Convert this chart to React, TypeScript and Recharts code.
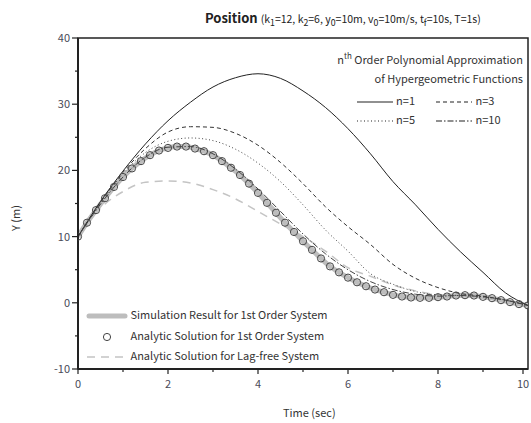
import { Line, LineChart, ReferenceArea, XAxis, YAxis } from "recharts";

const FONT = '"Noto Sans CJK KR", "Noto Sans", sans-serif';

// sampling times
const curveTime = [0, 0.5, 1, 1.5, 2, 2.5, 3, 3.5, 4, 4.5, 5, 5.5, 6, 6.5, 7, 7.5, 8, 8.5, 9, 9.5, 10];
const markerTime = [
  0, 0.2, 0.4, 0.6, 0.8, 1, 1.2, 1.4, 1.6, 1.8, 2, 2.2, 2.4, 2.6, 2.8, 3, 3.2, 3.4, 3.6, 3.8, 4, 4.2, 4.4, 4.6, 4.8,
  5, 5.2, 5.4, 5.6, 5.8, 6, 6.2, 6.4, 6.6, 6.8, 7, 7.2, 7.4, 7.6, 7.8, 8, 8.2, 8.4, 8.6, 8.8, 9, 9.2, 9.4, 9.6, 9.8, 10,
];

// polynomial approximations
const n1 = [10, 15.3, 19.9, 24.0, 27.5, 30.3, 32.6, 34.0, 34.6, 33.9, 32.0, 29.5, 26.3, 22.5, 18.3, 14.8, 11.1, 7.7, 4.6, 1.5, -0.4];
const n3 = [10, 15.2, 19.7, 23.3, 25.8, 26.6, 26.5, 25.6, 23.8, 21.2, 18.0, 14.5, 11.5, 8.8, 5.8, 3.7, 2.3, 1.4, 1.0, 0.4, -0.4];
const n5 = [10, 15.0, 19.5, 22.7, 24.4, 24.9, 24.5, 23.2, 21.1, 18.3, 14.8, 11.0, 7.8, 4.4, 2.8, 1.7, 1.2, 1.1, 0.9, 0.4, -0.4];
const n10 = [10, 14.9, 19.0, 22.0, 23.5, 23.6, 22.5, 20.2, 17.2, 13.8, 10.4, 7.4, 5.0, 3.2, 2.0, 1.3, 1.0, 1.1, 0.9, 0.4, -0.4];
const lagFree = [10, 14.3, 16.8, 18.2, 18.4, 18.1, 17.1, 15.7, 13.8, 11.9, 10.0, 7.8, 5.3, 4.0, 2.7, 1.8, 1.2, 1.0, 0.9, 0.4, -0.3];

// 1st order system (simulation and analytic)
const firstOrder = [
  10.0, 12.1, 14.0, 15.8, 17.5, 19.0, 20.3, 21.4, 22.3, 23.0, 23.4, 23.6, 23.6, 23.3, 22.9, 22.3, 21.4, 20.4, 19.3, 18.0,
  16.6, 15.1, 13.6, 12.1, 10.7, 9.3, 8.0, 6.7, 5.5, 4.6, 3.8, 3.1, 2.5, 2.0, 1.6, 1.2, 0.95, 0.8, 0.75, 0.75, 0.85, 0.95,
  1.1, 1.15, 1.1, 0.9, 0.7, 0.4, 0.1, -0.2, -0.4,
];

const xTicks = [0, 1, 2, 3, 4, 5, 6, 7, 8, 9, 10];
const yTicks = [-10, -5, 0, 5, 10, 15, 20, 25, 30, 35, 40];

const pts = (ts: number[], ys: number[]) => ts.map((t, i) => ({ t, y: ys[i] }));

const XTick = ({ x, y, payload }: any) => {
  const major = payload.value % 2 === 0;
  return (
    <g>
      <line x1={x} y1={y} x2={x} y2={y + (major ? 5 : 3)} stroke="#222" strokeWidth={1.2} />
      {major && (
        <text x={x} y={y + 19} textAnchor="middle" fontSize={11} fill="#4a4a58" fontFamily={FONT}>
          {payload.value}
        </text>
      )}
    </g>
  );
};

const YTick = ({ x, y, payload }: any) => {
  const major = payload.value % 10 === 0;
  return (
    <g>
      <line x1={x} y1={y} x2={x - (major ? 6 : 3)} y2={y} stroke="#222" strokeWidth={1.2} />
      {major && (
        <text x={x - 8} y={y + 4} textAnchor="end" fontSize={11} fill="#4a4a58" fontFamily={FONT}>
          {payload.value}
        </text>
      )}
    </g>
  );
};

const Swatch = ({ dash, color = "#222", width = 1.2 }: { dash?: string; color?: string; width?: number }) => (
  <svg width={38} height={8} style={{ verticalAlign: "middle" }}>
    <line x1={1} y1={4} x2={37} y2={4} stroke={color} strokeWidth={width} strokeDasharray={dash} />
  </svg>
);

export default function App() {
  return (
    <div style={{ position: "absolute", left: 0, top: 0, width: 531, height: 423, background: "#fff", fontFamily: FONT }}>
      <LineChart width={531} height={423} margin={{ top: 38, right: 3, bottom: 0, left: 0 }}>
        <XAxis
          type="number"
          dataKey="t"
          domain={[0, 10]}
          ticks={xTicks}
          allowDataOverflow
          height={54}
          tickSize={0}
          tickMargin={0}
          tickLine={false}
          tick={<XTick />}
          axisLine={{ stroke: "#222", strokeWidth: 2 }}
        />
        <YAxis
          type="number"
          domain={[-10, 40]}
          ticks={yTicks}
          allowDataOverflow
          width={78}
          tickSize={0}
          tickMargin={0}
          tickLine={false}
          tick={<YTick />}
          axisLine={{ stroke: "#222", strokeWidth: 2 }}
        />
        <ReferenceArea x1={0} x2={10} y1={-10} y2={40} fill="none" stroke="#222" strokeWidth={1.5} />
        <Line
          data={pts(markerTime, firstOrder)}
          dataKey="y"
          stroke="#bdbdbd"
          strokeWidth={5}
          dot={false}
          type="monotone"
          isAnimationActive={false}
        />
        <Line
          data={pts(curveTime, lagFree)}
          dataKey="y"
          stroke="#c4c4c4"
          strokeWidth={1.5}
          strokeDasharray="8 6"
          dot={false}
          type="monotone"
          isAnimationActive={false}
        />
        <Line data={pts(curveTime, n1)} dataKey="y" stroke="#222" strokeWidth={1} dot={false} type="monotone" isAnimationActive={false} />
        <Line
          data={pts(curveTime, n3)}
          dataKey="y"
          stroke="#333"
          strokeWidth={1}
          strokeDasharray="4 3"
          dot={false}
          type="monotone"
          isAnimationActive={false}
        />
        <Line
          data={pts(curveTime, n5)}
          dataKey="y"
          stroke="#444"
          strokeWidth={1}
          strokeDasharray="1 2.5"
          dot={false}
          type="monotone"
          isAnimationActive={false}
        />
        <Line
          data={pts(curveTime, n10)}
          dataKey="y"
          stroke="#444"
          strokeWidth={1}
          strokeDasharray="6 2 1.5 2"
          dot={false}
          type="monotone"
          isAnimationActive={false}
        />
        <Line
          data={pts(markerTime, firstOrder)}
          dataKey="y"
          stroke="none"
          dot={{ r: 3.6, stroke: "#444", strokeWidth: 1, fill: "none" }}
          isAnimationActive={false}
        />
      </LineChart>

      {/* title */}
      <div style={{ position: "absolute", left: 205, top: 4, whiteSpace: "nowrap", color: "#222" }}>
        <span style={{ fontWeight: 700, fontSize: 13 }}>Position </span>
        <span style={{ fontSize: 10.5 }}>
          (k<sub>1</sub>=12, k<sub>2</sub>=6, y<sub>0</sub>=10m, v<sub>0</sub>=10m/s, t<sub>f</sub>=10s, T=1s)
        </span>
      </div>

      {/* axis titles */}
      <div style={{ position: "absolute", left: 283, top: 404, fontSize: 11, color: "#333", whiteSpace: "nowrap" }}>Time (sec)</div>
      <div
        style={{
          position: "absolute",
          left: 15,
          top: 218,
          fontSize: 11,
          color: "#333",
          whiteSpace: "nowrap",
          transform: "translate(-50%, -50%) rotate(-90deg)",
        }}
      >
        Y (m)
      </div>

      {/* polynomial legend */}
      <div style={{ position: "absolute", right: 8, top: 46, fontSize: 11, color: "#333", textAlign: "right", lineHeight: "19px" }}>
        <div>
          n<sup style={{ fontSize: 8 }}>th</sup> Order Polynomial Approximation
        </div>
        <div>of Hypergeometric Functions</div>
        <div style={{ display: "flex", justifyContent: "flex-end", marginTop: 3 }}>
          <span><Swatch /> n=1</span>
          <span style={{ width: 88, textAlign: "left", paddingLeft: 20 }}><Swatch dash="4 3" /> n=3</span>
        </div>
        <div style={{ display: "flex", justifyContent: "flex-end" }}>
          <span><Swatch dash="1 2.5" /> n=5</span>
          <span style={{ width: 88, textAlign: "left", paddingLeft: 20 }}><Swatch dash="6 2 1.5 2" /> n=10</span>
        </div>
      </div>

      {/* system legend */}
      <div style={{ position: "absolute", left: 86, top: 304, fontSize: 11, color: "#333", lineHeight: "20.5px", whiteSpace: "nowrap" }}>
        <div>
          <svg width={42} height={8} style={{ verticalAlign: "middle" }}>
            <line x1={3} y1={4} x2={39} y2={4} stroke="#bdbdbd" strokeWidth={5} strokeLinecap="round" />
          </svg>{" "}
          Simulation Result for 1st Order System
        </div>
        <div>
          <svg width={42} height={10} style={{ verticalAlign: "middle" }}>
            <circle cx={21} cy={5} r={3.6} fill="none" stroke="#444" strokeWidth={1} />
          </svg>{" "}
          Analytic Solution for 1st Order System
        </div>
        <div>
          <svg width={42} height={8} style={{ verticalAlign: "middle" }}>
            <line x1={1} y1={4} x2={41} y2={4} stroke="#c4c4c4" strokeWidth={1.5} strokeDasharray="8 6" />
          </svg>{" "}
          Analytic Solution for Lag-free System
        </div>
      </div>
    </div>
  );
}
